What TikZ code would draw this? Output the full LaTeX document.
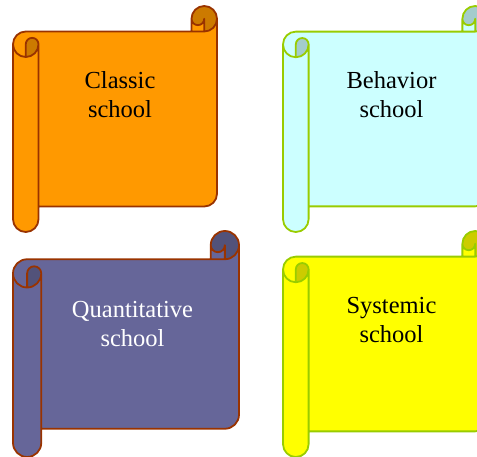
\documentclass[tikz,border=0pt]{standalone}
\usepackage{fontspec}
\setmainfont{Liberation Serif}
\usepackage{xcolor}

\definecolor{classicfill}{HTML}{FF9900}
\definecolor{classicdark}{HTML}{CC7A00}
\definecolor{behaviorfill}{HTML}{CCFFFF}
\definecolor{behaviordark}{HTML}{A3CCCC}
\definecolor{quantfill}{HTML}{666699}
\definecolor{quantdark}{HTML}{52527A}
\definecolor{systemfill}{HTML}{FFFF00}
\definecolor{systemdark}{HTML}{CCCC00}
\definecolor{rustline}{HTML}{993300}
\definecolor{limeline}{HTML}{99CC00}

\tikzset{
  scroll colours/.code n args={3}{%
    \colorlet{scrollbody}{#1}\colorlet{scrolldark}{#2}\colorlet{scrollline}{#3}},
  scroll body/.style={fill=scrollbody},
  scroll dark/.style={fill=scrolldark},
  scroll line/.style={draw=scrollline, line width=1.8pt, line join=round},
  classic/.style={scroll colours={classicfill}{classicdark}{rustline}},
  behavior/.style={scroll colours={behaviorfill}{behaviordark}{limeline}},
  quant/.style={scroll colours={quantfill}{quantdark}{rustline}},
  systemic/.style={scroll colours={systemfill}{systemdark}{limeline}},
  school label/.style={font=\fontsize{24.5}{29}\selectfont, align=center, anchor=base},
}

% horizontal scroll: #1,#2 top left corner, #3 width, #4 height, #5 colour style
\newcommand{\scrollshape}[5]{%
\begin{scope}[shift={(#1,#2)}, #5]
\pgfmathsetmacro{\scrr}{#3}
\pgfmathsetmacro{\scrch}{min(#3,#4)/8}
\pgfmathsetmacro{\scrchh}{\scrch/2}
\pgfmathsetmacro{\scrchq}{\scrch/4}
\pgfmathsetmacro{\scrxthree}{#3-\scrch}
\pgfmathsetmacro{\scrxfour}{#3-\scrchh}
\pgfmathsetmacro{\scrythree}{\scrch+\scrchh}
\pgfmathsetmacro{\scryfour}{2*\scrch}
\pgfmathsetmacro{\scryfive}{#4-\scrch-\scrchh}
\pgfmathsetmacro{\scrysix}{#4-\scrch}
\pgfmathsetmacro{\scryseven}{#4-\scrchh}
% sheet
\path[scroll body] (\scrr,\scrchh) arc[start angle=0, delta angle=90, radius=\scrchh]
  -- (\scrxfour,\scrchh) arc[start angle=0, delta angle=180, radius=\scrchq]
  -- (\scrxthree,\scrch) -- (\scrchh,\scrch)
  arc[start angle=270, delta angle=-90, radius=\scrchh]
  -- (0,\scryseven) arc[start angle=180, delta angle=-180, radius=\scrchh]
  -- (\scrch,\scrysix) -- (\scrxfour,\scrysix)
  arc[start angle=90, delta angle=-90, radius=\scrchh] -- cycle;
% rolled ends
\path[scroll dark] (\scrchh,\scryfour) arc[start angle=90, delta angle=-90, radius=\scrchh]
  arc[start angle=0, delta angle=-180, radius=\scrchq] -- cycle;
\path[scroll dark] (\scrxfour,\scrch) arc[start angle=90, delta angle=-270, radius=\scrchh]
  arc[start angle=180, delta angle=-180, radius=\scrchq] -- cycle;
% outline
\path[scroll line] (0,\scrythree) arc[start angle=180, delta angle=90, radius=\scrchh]
  -- (\scrxthree,\scrch) -- (\scrxthree,\scrchh)
  arc[start angle=180, delta angle=180, radius=\scrchh]
  -- (\scrr,\scryfive) arc[start angle=0, delta angle=90, radius=\scrchh]
  -- (\scrch,\scrysix) -- (\scrch,\scryseven)
  arc[start angle=0, delta angle=180, radius=\scrchh] -- cycle
  (\scrxthree,\scrch) -- (\scrxfour,\scrch) arc[start angle=90, delta angle=-90, radius=\scrchh]
  (\scrxfour,\scrch) -- (\scrxfour,\scrchh) arc[start angle=0, delta angle=180, radius=\scrchq]
  (\scrchh,\scryfour) -- (\scrchh,\scrythree)
  arc[start angle=180, delta angle=180, radius=\scrchq]
  arc[start angle=0, delta angle=180, radius=\scrchh]
  (\scrch,\scrythree) -- (\scrch,\scrysix);
\end{scope}}

\begin{document}
\begin{tikzpicture}[x=1pt, y=-1pt]
\clip (0,0) rectangle (477,457);

\scrollshape{13}{6}{204}{226}{classic}
\scrollshape{283}{6}{205}{226}{behavior}
\scrollshape{13}{231}{226}{226}{quant}
\scrollshape{283}{231}{205}{226}{systemic}

% labels, anchored on the baseline of the second line
\node[school label] (classic) at (120,118) {Classic\\school};
\node[school label] (behavior) at (391.5,118) {Behavior\\school};
\node[school label, text=white] (quant) at (132.5,347) {Quantitative\\school};
\node[school label] (systemic) at (391.5,343) {Systemic\\school};
\end{tikzpicture}
\end{document}
